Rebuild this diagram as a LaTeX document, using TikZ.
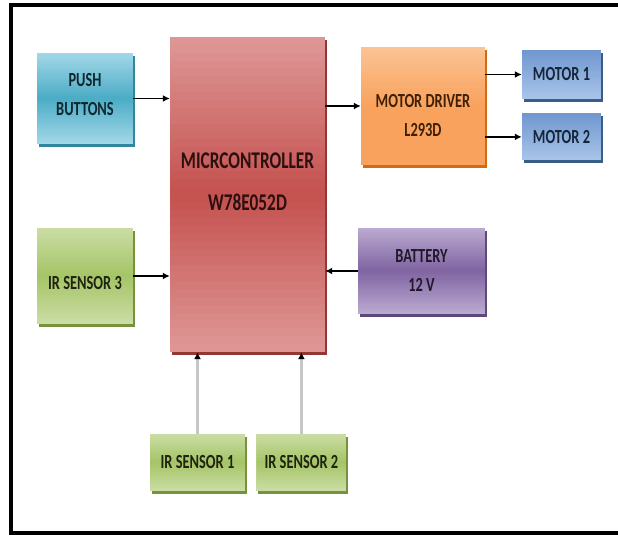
\documentclass[tikz,border=0pt]{standalone}
\usepackage{fontspec}
\newfontfamily\boxfont{Carlito}[FakeStretch=0.72]
\usetikzlibrary{arrows.meta,positioning,calc}
\definecolor{cyanlt}{HTML}{A3D8E8}
\definecolor{cyanmd}{HTML}{4BACC6}
\definecolor{cyandk}{HTML}{31859C}
\definecolor{redlt}{HTML}{DE9897}
\definecolor{redmd}{HTML}{C4514E}
\definecolor{reddk}{HTML}{943634}
\definecolor{orglt}{HTML}{FBC394}
\definecolor{orgmd}{HTML}{F89A4F}
\definecolor{orgdk}{HTML}{D46A12}
\definecolor{blult}{HTML}{A9C5EA}
\definecolor{blumd}{HTML}{6F96CF}
\definecolor{bludk}{HTML}{385D8A}
\definecolor{purlt}{HTML}{BBABD1}
\definecolor{purmd}{HTML}{8064A2}
\definecolor{purdk}{HTML}{5F497A}
\definecolor{grnlt}{HTML}{CBDDA5}
\definecolor{grnmd}{HTML}{A5C466}
\definecolor{grndk}{HTML}{76923C}
\tikzset{
  blk/.style={rectangle,inner sep=0pt,align=center,
    font=\boxfont\bfseries\fontsize{20}{29}\selectfont},
  lbl/.style={align=center,font=\boxfont\bfseries\fontsize{20}{29}\selectfont},
  mcutext/.style={align=center,text=reddk!30!black,
    font=\boxfont\bfseries\fontsize{24}{42}\selectfont},
  % stepped vertical gradient: top, middle, bottom, shadow
  boxcol/.style n args={4}{fill=#1,
    preaction={fill=#4,transform canvas={shift={(2pt,-3pt)}}},
    path picture={
      \coordinate (nw) at (path picture bounding box.north west);
      \coordinate (se) at (path picture bounding box.south east);
      \foreach \i in {1,...,20}{
        \pgfmathsetmacro\ya{(\i-1)/40}
        \pgfmathsetmacro\yb{\i/40+0.01}
        \pgfmathsetmacro\mix{5*\i-2.5}
        \fill[#2!\mix!#1] ($(nw)!\ya!(nw|-se)$) rectangle ($(se|-nw)!\yb!(se)$);
      }
      \foreach \i in {21,...,40}{
        \pgfmathsetmacro\ya{(\i-1)/40}
        \pgfmathsetmacro\yb{min(1,\i/40+0.01)}
        \pgfmathsetmacro\mix{5*(\i-20)-2.5}
        \fill[#3!\mix!#2] ($(nw)!\ya!(nw|-se)$) rectangle ($(se|-nw)!\yb!(se)$);
      }}},
  pushcol/.style={boxcol={cyanlt}{cyanmd}{cyanlt}{cyandk},text=cyandk!30!black},
  mcucol/.style={boxcol={redlt}{redmd}{redlt}{reddk}},
  drvcol/.style={boxcol={orglt}{orgmd!80!orglt}{orgmd}{orgdk},text=orgdk!30!black},
  motcol/.style={boxcol={blumd}{blumd!50!blult}{blult}{bludk},text=bludk!40!black},
  batcol/.style={boxcol={purlt}{purmd}{purlt}{purdk},text=purdk!35!black},
  sencol/.style={boxcol={grnlt}{grnmd}{grnlt}{grndk},text=grndk!25!black},
  flow/.style={-{Latex[length=7pt,width=7pt]},line width=1.6pt,black},
  feed/.style={-{Latex[length=7pt,width=7pt,black]},line width=2.5pt,gray!45}
}
\begin{document}
\begin{tikzpicture}[x=1pt,y=1pt]
  \useasboundingbox (0,0) rectangle (618,536);
  \fill[white] (0,0) rectangle (618,536);
  \draw[line width=4.5pt,line join=miter] (618,531) -- (11,531) -- (11,3) -- (618,3);

  \node[blk,mcucol,minimum width=155pt,minimum height=315pt,
    label={[mcutext,yshift=13pt]center:{MICRCONTROLLER\\W78E052D}}] (mcu) at (247.5,341.5) {};
  \node[blk,pushcol,minimum width=96pt,minimum height=91pt,
    label={[lbl,text=cyandk!30!black,yshift=4pt]center:{PUSH\\BUTTONS}}] (push) at (85,437.5) {};
  \node[blk,sencol,minimum width=96pt,minimum height=96pt,
    label={[lbl,text=grndk!25!black,yshift=-7pt]center:{IR SENSOR 3}}] (ir3) at (85,260) {};
  \node[blk,drvcol,minimum width=124pt,minimum height=118pt,
    label={[lbl,text=orgdk!30!black,yshift=-10pt]center:{MOTOR DRIVER\\L293D}}] (drv) at (423,430) {};
  \node[blk,motcol,minimum width=79pt,minimum height=49pt] (m1) at (561.5,461.5) {MOTOR 1};
  \node[blk,motcol,minimum width=79pt,minimum height=47pt,below=14pt of m1] (m2) {MOTOR 2};
  \node[blk,batcol,minimum width=127pt,minimum height=86pt] (bat) at (421.5,265) {BATTERY\\12 V};
  \node[blk,sencol,minimum width=95pt,minimum height=57pt] (ir1) at (197.5,73.5) {IR SENSOR 1};
  \node[blk,sencol,minimum width=90pt,minimum height=57pt,right=11pt of ir1] (ir2) {IR SENSOR 2};

  \draw[flow] (push.east) -- (push.east -| mcu.west);
  \draw[flow] (ir3.east) -- (ir3.east -| mcu.west);
  \draw[flow] (drv.west -| mcu.east) -- (drv.west);
  \draw[flow] (m1.west -| drv.east) -- (m1.west);
  \draw[flow] (m2.west -| drv.east) -- (m2.west);
  \draw[flow] (bat.west) -- (bat.west -| mcu.east);
  \draw[feed] (ir1.north) -- (ir1.north |- mcu.south);
  \draw[feed] (ir2.north) -- (ir2.north |- mcu.south);
\end{tikzpicture}
\end{document}
